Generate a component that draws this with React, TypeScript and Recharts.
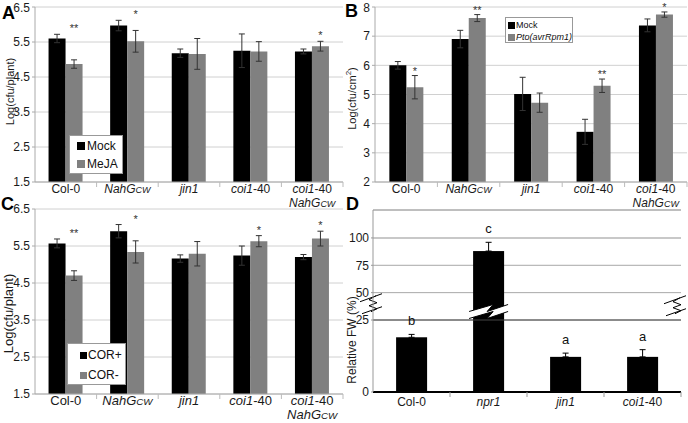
import React from 'react';
import {
  BarChart,
  Bar,
  XAxis,
  YAxis,
  CartesianGrid,
  ErrorBar,
  LabelList,
  Legend,
  ReferenceLine,
} from 'recharts';

const FONT = '"Liberation Sans", Arial, Helvetica, sans-serif';
const BLACK = '#000000';
const GRAY = '#808080';

// ---- data ----
const strains = ['Col-0', 'NahGcw', 'jin1', 'coi1-40', 'coi1-40 NahGcw'];

// A: Mock vs MeJA, Log(cfu/plant)
const aMock = [5.6, 5.97, 5.18, 5.25, 5.23];
const aMockErr = [0.12, 0.15, 0.12, 0.48, 0.07];
const aMeja = [4.87, 5.52, 5.16, 5.23, 5.38];
const aMejaErr = [0.12, 0.31, 0.44, 0.28, 0.14];
const aSig = ['**', '*', '', '', '*'];
const aTicks = [1.5, 2.5, 3.5, 4.5, 5.5, 6.5];

// B: Mock vs Pto(avrRpm1), Log(cfu/cm2)
const bMock = [6.0, 6.9, 5.02, 3.72, 7.37];
const bMockErr = [0.13, 0.3, 0.57, 0.43, 0.22];
const bPto = [5.25, 7.62, 4.72, 5.3, 7.74];
const bPtoErr = [0.4, 0.12, 0.33, 0.23, 0.09];
const bSig = ['*', '**', '', '**', '*'];
const bTicks = [2, 3, 4, 5, 6, 7, 8];

// C: COR+ vs COR-, Log(cfu/plant)
const cCorPlus = [5.57, 5.9, 5.16, 5.24, 5.2];
const cCorPlusErr = [0.12, 0.18, 0.1, 0.26, 0.07];
const cCorMinus = [4.7, 5.34, 5.29, 5.63, 5.7];
const cCorMinusErr = [0.13, 0.3, 0.33, 0.15, 0.2];
const cSig = ['**', '*', '', '*', '*'];

// D: Relative FW (%), broken axis
const dStrains = ['Col-0', 'npr1', 'jin1', 'coi1-40'];
const dFw = [19, 88, 12.2, 12.2];
const dFwErr = [1, 8, 1.3, 2.5];
const dLetters = ['b', 'c', 'a', 'a'];
const dTickLabels = [0, 25, 50, 75, 100];

// broken y axis of D: linear up to 25, squeezed above
const BREAK = 25;
const SQUEEZE = 0.38;
const D_MAX = 63.2;
const AXIS_BREAK = 31;
const BAR_BREAK = 29;
const toShown = (v: number) => (v <= BREAK ? v : BREAK + (v - BREAK) * SQUEEZE);
const dTicks = dTickLabels.map(toShown);

const italicNames = new Set(['Pto(avrRpm1)']);

type Part = [string, 'n' | 'i' | 'sc'];
const labelParts: Record<string, Part[][]> = {
  'Col-0': [[['Col-0', 'n']]],
  NahGcw: [[['NahG', 'i'], ['CW', 'sc']]],
  jin1: [[['jin1', 'i']]],
  npr1: [[['npr1', 'i']]],
  'coi1-40': [[['coi1', 'i'], ['-40', 'n']]],
  'coi1-40 NahGcw': [
    [['coi1', 'i'], ['-40', 'n']],
    [['NahG', 'i'], ['CW', 'sc']],
  ],
};

type Row = { strain: string; a: number; aErr: number; b: number; bErr: number; sig: string };

const pairRows = (a: number[], aErr: number[], b: number[], bErr: number[], sig: string[]): Row[] =>
  strains.map((s, i) => ({ strain: s, a: a[i], aErr: aErr[i], b: b[i], bErr: bErr[i], sig: sig[i] }));

const rowsA = pairRows(aMock, aMockErr, aMeja, aMejaErr, aSig);
const rowsB = pairRows(bMock, bMockErr, bPto, bPtoErr, bSig);
const rowsC = pairRows(cCorPlus, cCorPlusErr, cCorMinus, cCorMinusErr, cSig);

const rowsD = dStrains.map((s, i) => ({
  strain: s,
  fw: dFw[i],
  fwErr: dFwErr[i],
  shown: toShown(dFw[i]),
  err: [0, toShown(dFw[i] + dFwErr[i]) - toShown(dFw[i])],
  letter: dLetters[i],
}));

// ---- pieces ----
function CatTick(props: any) {
  const { x, y, payload, size = 12, first = 11, lineGap = 14, sep = '#bbb' } = props;
  const half = typeof payload?.offset === 'number' ? payload.offset : 0;
  const lines = labelParts[payload.value] ?? [[[String(payload.value), 'n']]];
  return (
    <g>
      {half > 0 && <line x1={x + half} x2={x + half} y1={y} y2={y + 5} stroke={sep} />}
      {lines.map((line, li) => (
        <text key={li} x={x} y={y + first + li * lineGap} textAnchor="middle" fontSize={size} fill="#1a1a1a">
          {line.map(([t, s], k) => (
            <tspan key={k} fontStyle={s === 'n' ? 'normal' : 'italic'} fontSize={s === 'sc' ? size * 0.75 : size}>
              {t}
            </tspan>
          ))}
        </text>
      ))}
    </g>
  );
}

function BoxLegend(props: any) {
  const { payload = [], w, h, font, row, marker, padL, padT, gap } = props;
  return (
    <div
      style={{
        width: w,
        height: h,
        boxSizing: 'border-box',
        border: '1px solid #999',
        background: '#fff',
        paddingLeft: padL,
        paddingTop: padT,
        fontFamily: FONT,
        fontSize: font,
        color: '#111',
        lineHeight: 1,
      }}
    >
      {payload.map((it: any) => (
        <div key={it.value} style={{ height: row, display: 'flex', alignItems: 'center', whiteSpace: 'nowrap' }}>
          <span style={{ display: 'inline-block', width: marker, height: marker, background: it.color, marginRight: gap }} />
          <span style={{ fontStyle: italicNames.has(it.value) ? 'italic' : 'normal' }}>{it.value}</span>
        </div>
      ))}
    </div>
  );
}

const yLabel = (text: React.ReactNode, x: number, dy: number, size: number) => ({
  content: (p: any) => {
    const vb = p.viewBox;
    const cx = vb.x + x;
    const cy = vb.y + vb.height / 2 + dy;
    return (
      <text
        x={cx}
        y={cy}
        transform={`rotate(-90 ${cx} ${cy})`}
        textAnchor="middle"
        dominantBaseline="central"
        fontSize={size}
        fill="#1a1a1a"
      >
        {text}
      </text>
    );
  },
});

const starContent = (rows: Row[], base: number, mode: 'group' | 'second', gap: number) => (p: any) => {
  const r = rows[p.index];
  if (!r || !r.sig) return null;
  const vb = p.viewBox ?? p;
  const k = vb.height / (r.b - base);
  const bottom = vb.y + vb.height;
  const top = mode === 'group' ? Math.max(r.a + r.aErr, r.b + r.bErr) : r.b + r.bErr;
  const yTop = bottom - (top - base) * k;
  return (
    <text x={vb.x + vb.width / 2} y={yTop - gap} textAnchor="middle" fontSize={11} fill="#333">
      {r.sig}
    </text>
  );
};

function PairPanel(props: any) {
  const { rows, names, domain, ticks, width, height, top, yWidth, label, tickSize, catSize, legend, starMode, starGap, gap } =
    props;
  return (
    <BarChart
      width={width}
      height={height}
      data={rows}
      margin={{ top, right: 1, bottom: 0, left: 0 }}
      barGap={0}
      barCategoryGap={gap}
    >
      <CartesianGrid vertical={false} stroke="#d0d0d0" />
      <XAxis
        dataKey="strain"
        height={28}
        interval={0}
        tickLine={false}
        tickSize={0}
        tickMargin={0}
        axisLine={{ stroke: '#aaa' }}
        tick={(p: any) => <CatTick {...p} size={catSize} />}
      />
      <YAxis
        domain={domain}
        ticks={ticks}
        width={yWidth}
        tickSize={3}
        tickMargin={2}
        tickLine={{ stroke: '#aaa' }}
        axisLine={{ stroke: '#aaa' }}
        tick={{ fontSize: tickSize, fill: '#1a1a1a' }}
        label={label}
      />
      <YAxis yAxisId="r" orientation="right" width={0} domain={domain} tick={false} tickLine={false} axisLine={{ stroke: '#bbb' }} />
      <Legend
        layout="vertical"
        align="center"
        verticalAlign="middle"
        itemSorter="dataKey"
        wrapperStyle={{ left: legend.left, top: legend.top, width: legend.w, height: legend.h, margin: 0 }}
        content={(p: any) => <BoxLegend {...p} {...legend} />}
      />
      <Bar dataKey="a" name={names[0]} fill={BLACK} isAnimationActive={false}>
        <ErrorBar dataKey="aErr" width={3} stroke="#333" strokeWidth={1} />
      </Bar>
      <Bar dataKey="b" name={names[1]} fill={GRAY} isAnimationActive={false}>
        <ErrorBar dataKey="bErr" width={3} stroke="#333" strokeWidth={1} />
        <LabelList dataKey="sig" content={starContent(rows, domain[0], starMode, starGap)} />
      </Bar>
    </BarChart>
  );
}

function BrokenBar(p: any) {
  const { x, y, width, height, fill, payload } = p;
  const rect = <rect x={x} y={y} width={width} height={height} fill={fill} />;
  if (!payload || payload.fw <= BREAK || !height) return rect;
  const k = height / payload.shown;
  const cy = y + height - BAR_BREAK * k;
  const L = x - 4;
  const R = x + width + 4;
  const m = x + width * 0.55;
  const topLine = [
    [L, cy + 3],
    [m + 3, cy - 4],
    [m - 3, cy + 3],
    [R, cy - 4],
  ];
  const botLine = topLine.map(([px, py]) => [px, py + 7]);
  const pts = (a: number[][]) => a.map(([px, py]) => `${px},${py}`).join(' ');
  return (
    <g>
      {rect}
      <polygon points={pts([...topLine, ...botLine.slice().reverse()])} fill="#fff" />
      <polyline points={pts(topLine)} fill="none" stroke="#000" strokeWidth={1} />
      <polyline points={pts(botLine)} fill="none" stroke="#000" strokeWidth={1} />
    </g>
  );
}

const squigglePath = (cx: number, cy: number) =>
  `M${cx - 12},${cy - 1} L${cx + 10},${cy - 9} ` +
  `M${cx + 4},${cy - 7} L${cx - 3},${cy - 3} L${cx + 5},${cy} L${cx - 3},${cy + 3} L${cx + 5},${cy + 6} L${cx - 1},${cy + 9} ` +
  `M${cx - 10},${cy + 11} L${cx + 10},${cy + 4}`;

const axisBreaks = (p: any) => {
  const x1 = p.x1 ?? 0;
  const x2 = p.x2 ?? 0;
  const y1 = p.y1 ?? 0;
  return (
    <g>
      <path d={squigglePath(x1 - 1, y1)} fill="none" stroke="#000" strokeWidth={1} />
      <path d={squigglePath(x2 - 5, y1 + 2)} fill="none" stroke="#000" strokeWidth={1} />
    </g>
  );
};

const letterContent = (p: any) => {
  const r = rowsD[p.index];
  if (!r) return null;
  const vb = p.viewBox ?? p;
  const k = vb.height / r.shown;
  const errTop = vb.y + vb.height - toShown(r.fw + r.fwErr) * k;
  return (
    <text x={vb.x + vb.width / 2} y={errTop - 9} textAnchor="middle" fontSize={13} fill="#111">
      {r.letter}
    </text>
  );
};

function PanelD() {
  return (
    <BarChart width={344} height={223} data={rowsD} margin={{ top: 10, right: 7, bottom: 0, left: 0 }} barCategoryGap="30%">
      <CartesianGrid vertical={false} stroke="#a8a8a8" />
      <XAxis
        dataKey="strain"
        height={31}
        interval={0}
        tickLine={false}
        tickSize={0}
        tickMargin={0}
        axisLine={{ stroke: '#000', strokeWidth: 2 }}
        tick={(p: any) => <CatTick {...p} size={12} first={14} sep="#999" />}
      />
      <YAxis
        domain={[0, D_MAX]}
        ticks={dTicks}
        tickFormatter={(v: number) => {
          const i = dTicks.indexOf(v);
          return i >= 0 ? String(dTickLabels[i]) : '';
        }}
        width={29}
        tickSize={2}
        tickMargin={2}
        tickLine={{ stroke: '#999' }}
        axisLine={{ stroke: '#999' }}
        tick={{ fontSize: 12, fill: '#1a1a1a' }}
        label={yLabel('Relative FW (%)', 8, 39, 12)}
      />
      <YAxis yAxisId="r" orientation="right" width={0} domain={[0, D_MAX]} tick={false} tickLine={false} axisLine={{ stroke: '#aaa' }} />
      <ReferenceLine y={toShown(100)} stroke="#c8c8c8" strokeWidth={2} />
      <ReferenceLine y={BREAK} stroke="#444" />
      <ReferenceLine y={D_MAX} stroke="#aaa" />
      <Bar dataKey="shown" name="Relative FW" fill={BLACK} shape={BrokenBar} isAnimationActive={false}>
        <ErrorBar dataKey="err" width={3} stroke="#000" strokeWidth={1} />
        <LabelList dataKey="letter" content={letterContent} />
      </Bar>
      <ReferenceLine y={AXIS_BREAK} stroke="none" ifOverflow="visible" shape={axisBreaks} />
    </BarChart>
  );
}

export default function App() {
  return (
    <div
      style={{
        position: 'absolute',
        left: 0,
        top: 0,
        width: 688,
        height: 423,
        background: '#fff',
        fontFamily: FONT,
        overflow: 'hidden',
      }}
    >
      <div style={{ position: 'absolute', left: 0, top: 0 }}>
        <PairPanel
          rows={rowsA}
          names={['Mock', 'MeJA']}
          domain={[1.5, 6.5]}
          ticks={aTicks}
          width={344}
          height={210}
          top={7}
          yWidth={35}
          tickSize={12}
          catSize={12}
          gap="22%"
          label={yLabel('Log(cfu/plant)', 10, -3, 11)}
          legend={{ left: 69, top: 135, w: 54, h: 39, font: 12, row: 18, marker: 8, padL: 7, padT: 1, gap: 2 }}
          starMode="group"
          starGap={2}
        />
      </div>
      <div style={{ position: 'absolute', left: 344, top: 0 }}>
        <PairPanel
          rows={rowsB}
          names={['Mock', 'Pto(avrRpm1)']}
          domain={[2, 8]}
          ticks={bTicks}
          width={344}
          height={210}
          top={7}
          yWidth={31}
          tickSize={12}
          catSize={12}
          gap="23%"
          label={yLabel(
            <>
              Log(cfu/cm
              <tspan fontSize={8} dy={-4}>
                2
              </tspan>
              <tspan dy={4}>)</tspan>
            </>,
            8,
            4,
            11,
          )}
          legend={{ left: 161, top: 17, w: 68, h: 26, font: 9, row: 12, marker: 7, padL: 2, padT: 1, gap: 1 }}
          starMode="second"
          starGap={1}
        />
      </div>
      <div style={{ position: 'absolute', left: 0, top: 200 }}>
        <PairPanel
          rows={rowsC}
          names={['COR+', 'COR-']}
          domain={[1.5, 6.5]}
          ticks={aTicks}
          width={344}
          height={222}
          top={9}
          yWidth={35}
          tickSize={12}
          catSize={13}
          gap="22%"
          label={yLabel('Log(cfu/plant)', 8, 12, 13)}
          legend={{ left: 67, top: 143, w: 59, h: 42, font: 12, row: 20, marker: 7, padL: 12, padT: 1, gap: 1 }}
          starMode="group"
          starGap={2}
        />
      </div>
      <div style={{ position: 'absolute', left: 344, top: 200 }}>
        <PanelD />
      </div>
      <svg width={688} height={423} style={{ position: 'absolute', left: 0, top: 0, pointerEvents: 'none' }}>
        <g fontFamily={FONT} fontWeight="bold" fontSize={18} fill="#000">
          <text x={2} y={19}>A</text>
          <text x={345} y={17}>B</text>
          <text x={1} y={210}>C</text>
          <text x={346} y={210}>D</text>
        </g>
      </svg>
    </div>
  );
}
